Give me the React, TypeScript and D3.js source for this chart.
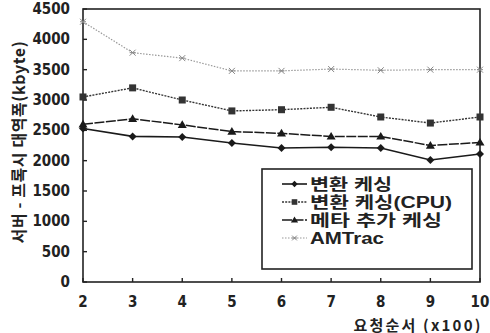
import React from "react";
import * as d3 from "d3";

const xValues = [2, 3, 4, 5, 6, 7, 8, 9, 10];
const seriesNames = ["변환 케싱", "변환 케싱(CPU)", "메타 추가 케싱", "AMTrac"];
const s1 = [2530, 2400, 2390, 2290, 2210, 2220, 2210, 2010, 2110];
const s2 = [3050, 3200, 3000, 2820, 2840, 2880, 2720, 2620, 2720];
const s3 = [2600, 2690, 2590, 2480, 2450, 2400, 2400, 2250, 2300];
const s4 = [4290, 3780, 3690, 3480, 3480, 3510, 3490, 3500, 3500];
const yTicks = [0, 500, 1000, 1500, 2000, 2500, 3000, 3500, 4000, 4500];
const xTicks = [2, 3, 4, 5, 6, 7, 8, 9, 10];
const yTitle = "서버 - 프록시  대역폭(kbyte)";
const xTitle = "요청순서 (x100)";

const W = 490, H = 333;
const L = 83, R = 480, T = 9, B = 282;
const FONT = "'Liberation Sans Narrow', 'DejaVu Sans Condensed', 'Liberation Sans', Arial, sans-serif";
const KFONT = "'Noto Sans CJK KR', 'Noto Sans', sans-serif";
const LFONT = "'Liberation Sans', 'Noto Sans CJK KR', sans-serif";

export default function App() {
  const x = d3.scaleLinear().domain([2, 10]).range([L, R]);
  const y = d3.scaleLinear().domain([0, 4500]).range([B, T]);
  const line = d3.line<number>().x((_, i) => x(xValues[i])).y((d) => y(d));

  const styles = [
    { data: s1, stroke: "#1a1a1a", width: 1.6, dash: "", marker: "diamond", mfill: "#1a1a1a", tl: 82 },
    { data: s2, stroke: "#333", width: 1.4, dash: "2,1.2", marker: "square", mfill: "#333", tl: 142 },
    { data: s3, stroke: "#1a1a1a", width: 1.5, dash: "10,1.5", marker: "triangle", mfill: "#1a1a1a", tl: 132 },
    { data: s4, stroke: "#999", width: 1.2, dash: "1.5,1.5", marker: "star", mfill: "#888", tl: 74 },
  ];

  const drawMarker = (type: string, cx: number, cy: number, fill: string, key: string, scale = 1) => {
    if (type === "diamond") {
      const s = 4 * scale;
      return <path key={key} d={`M${cx},${cy - s}L${cx + s},${cy}L${cx},${cy + s}L${cx - s},${cy}Z`} fill={fill} />;
    }
    if (type === "square") {
      const s = 3.5 * scale;
      return <rect key={key} x={cx - s} y={cy - s} width={2 * s} height={2 * s} fill={fill} />;
    }
    if (type === "triangle") {
      const s = 4.5 * scale;
      return <path key={key} d={`M${cx},${cy - s}L${cx + s},${cy + s * 0.7}L${cx - s},${cy + s * 0.7}Z`} fill={fill} />;
    }
    const s = 3 * scale;
    return (
      <g key={key} stroke={fill} strokeWidth={1}>
        <line x1={cx - s} y1={cy - s} x2={cx + s} y2={cy + s} />
        <line x1={cx - s} y1={cy + s} x2={cx + s} y2={cy - s} />
        <line x1={cx - s} y1={cy} x2={cx + s} y2={cy} />
      </g>
    );
  };

  const legX = 262, legY = 169, legW = 210, legH = 100;
  const legRows = [184, 202, 220, 238];

  return (
    <svg width={W} height={H} style={{ position: "absolute", left: 0, top: 0, background: "#fff" }}>
      <rect x={0} y={0} width={W} height={H} fill="#fff" />
      <rect x={L} y={T} width={R - L} height={B - T} fill="none" stroke="#222" strokeWidth={1.6} />
      {yTicks.map((t) => (
        <g key={"y" + t}>
          <line x1={L} x2={L + 4} y1={y(t)} y2={y(t)} stroke="#222" strokeWidth={1.4} />
          <text x={70} y={y(t)} textAnchor="end" dominantBaseline="central" fontFamily={FONT} fontWeight="bold" fontSize={15} fill="#222">
            {t}
          </text>
        </g>
      ))}
      {xTicks.map((t) => (
        <g key={"x" + t}>
          <line x1={x(t)} x2={x(t)} y1={B} y2={B - 4} stroke="#222" strokeWidth={1.4} />
          <text x={x(t)} y={302} textAnchor="middle" dominantBaseline="central" fontFamily={FONT} fontWeight="bold" fontSize={15} fill="#222">
            {t}
          </text>
        </g>
      ))}
      {styles.map((s, si) => (
        <g key={"s" + si}>
          <path d={line(s.data) || ""} fill="none" stroke={s.stroke} strokeWidth={s.width} strokeDasharray={s.dash} />
          {s.data.map((v, i) => drawMarker(s.marker, x(xValues[i]), y(v), s.mfill, `m${si}-${i}`))}
        </g>
      ))}
      <rect x={legX} y={legY} width={legW} height={legH} fill="#fff" stroke="#222" strokeWidth={1.6} />
      {styles.map((s, si) => (
        <g key={"l" + si}>
          <line x1={282} x2={307} y1={legRows[si]} y2={legRows[si]} stroke={s.stroke} strokeWidth={s.width} strokeDasharray={s.dash} />
          {drawMarker(s.marker, 294.5, legRows[si], s.mfill, "lm" + si, 0.8)}
          <text
            x={310}
            y={legRows[si] + 6}
            fontFamily={LFONT}
            fontWeight="bold"
            fontSize={16}
            textLength={s.tl}
            lengthAdjust="spacingAndGlyphs"
            fill="#222"
          >
            {seriesNames[si]}
          </text>
        </g>
      ))}
      <text x={418} y={324} textAnchor="middle" dominantBaseline="central" fontFamily={KFONT} fontWeight="bold" fontSize={15} letterSpacing={2.2} fill="#222">
        {xTitle}
      </text>
      <text
        transform={`translate(18, 142) rotate(-90)`}
        textAnchor="middle"
        dominantBaseline="central"
        fontFamily={KFONT}
        fontWeight="bold"
        fontSize={16}
        letterSpacing={0.6}
        fill="#222"
      >
        {yTitle}
      </text>
    </svg>
  );
}
